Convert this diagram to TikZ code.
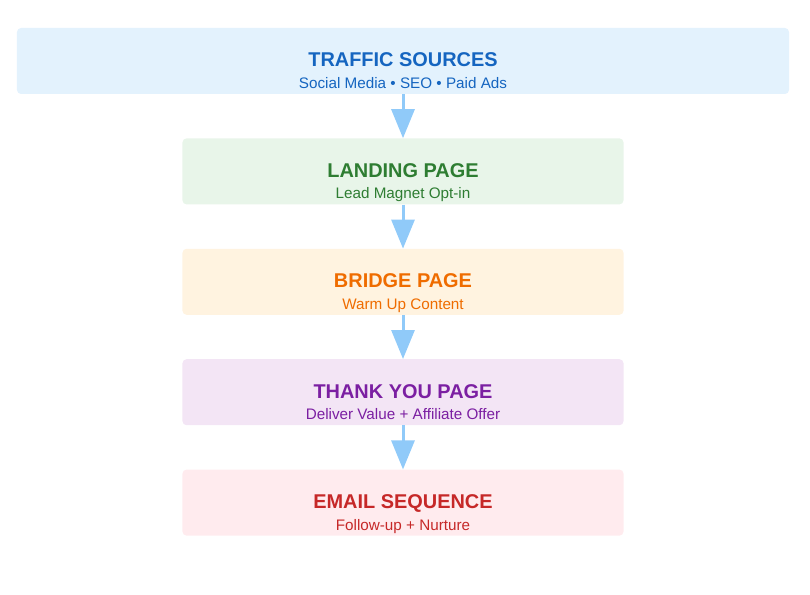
\documentclass[tikz,border=0pt]{standalone}
\usepackage{fontspec}
\setmainfont{Liberation Sans}
\usetikzlibrary{arrows.meta,positioning}
\definecolor{trafficbg}{HTML}{E3F2FD}
\definecolor{trafficfg}{HTML}{1565C0}
\definecolor{landingbg}{HTML}{E8F5E9}
\definecolor{landingfg}{HTML}{2E7D32}
\definecolor{bridgebg}{HTML}{FFF3E0}
\definecolor{bridgefg}{HTML}{EF6C00}
\definecolor{thanksbg}{HTML}{F3E5F5}
\definecolor{thanksfg}{HTML}{7B1FA2}
\definecolor{emailbg}{HTML}{FFEBEE}
\definecolor{emailfg}{HTML}{C62828}
\definecolor{arrowblue}{HTML}{90CAF9}

\begin{document}
\begin{tikzpicture}[x=1bp,y=-1bp,
      stage/.style={fill=#1,rounded corners=4bp,minimum height=66bp,
        minimum width=441bp,inner sep=0pt},
      headline/.style={anchor=base,text=#1,
        font=\fontsize{20}{24}\selectfont\bfseries},
      subline/.style={anchor=base,text=#1,
        font=\fontsize{15.3}{18}\selectfont},
      flow/.style={draw=arrowblue,line width=3bp,
        -{Triangle[length=29bp,width=23bp]}}]
      \useasboundingbox(0,0)rectangle(810,595);
      \node[stage=trafficbg,minimum width=772bp](traffic)at(403,61){};
      \node[stage=landingbg,below=44bp of traffic](landing){};
      \node[stage=bridgebg,below=44bp of landing](bridge){};
      \node[stage=thanksbg,below=44bp of bridge](thanks){};
      \node[stage=emailbg,below=44bp of thanks](email){};
      \node[headline=trafficfg](trafficT)at([yshift=-6bp]traffic.center)
        {TRAFFIC SOURCES};
      \node[subline=trafficfg](trafficS)at([yshift=-27.5bp]traffic.center)
        {Social Media • SEO • Paid Ads};
      \node[headline=landingfg](landingT)at([yshift=-6bp]landing.center)
        {LANDING PAGE};
      \node[subline=landingfg](landingS)at([yshift=-27.5bp]landing.center)
        {Lead Magnet Opt-in};
      \node[headline=bridgefg](bridgeT)at([yshift=-6bp]bridge.center)
        {BRIDGE PAGE};
      \node[subline=bridgefg](bridgeS)at([yshift=-27.5bp]bridge.center)
        {Warm Up Content};
      \node[headline=thanksfg](thanksT)at([yshift=-6bp]thanks.center)
        {THANK YOU PAGE};
      \node[subline=thanksfg](thanksS)at([yshift=-27.5bp]thanks.center)
        {Deliver Value + Affiliate Offer};
      \node[headline=emailfg](emailT)at([yshift=-6bp]email.center)
        {EMAIL SEQUENCE};
      \node[subline=emailfg](emailS)at([yshift=-27.5bp]email.center)
        {Follow-up + Nurture};
      \draw[flow](traffic.south)--(landing.north);
      \draw[flow](landing.south)--(bridge.north);
      \draw[flow](bridge.south)--(thanks.north);
      \draw[flow](thanks.south)--(email.north);
   \end{tikzpicture}
\end{document}
